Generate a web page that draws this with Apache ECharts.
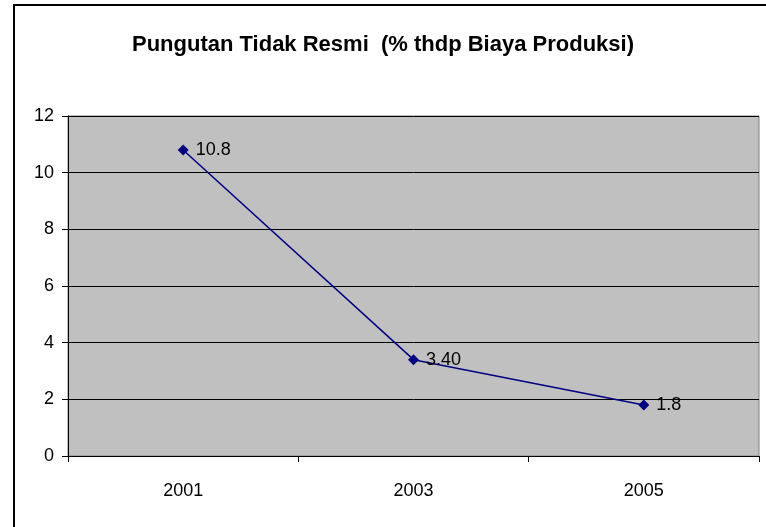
<!DOCTYPE html>
<html>
<head>
<meta charset="utf-8">
<script src="https://cdn.jsdelivr.net/npm/echarts@6/dist/echarts.min.js"></script>
<style>
html,body{margin:0;padding:0;background:#fff;}
#c{width:766px;height:527px;}
</style>
</head>
<body>
<div id="c"></div>
<script>
const titleText = 'Pungutan Tidak Resmi  (% thdp Biaya Produksi)';
const categories = ['2001', '2003', '2005'];
const values = [10.8, 3.4, 1.8];
const labelTexts = ['10.8', '3.40', '1.8'];
const yTicks = { min: 0, max: 12, interval: 2 };

const chart = echarts.init(document.getElementById('c'));
const font = 'Liberation Sans, Arial, sans-serif';
chart.setOption({
  animation: false,
  backgroundColor: '#ffffff',
  graphic: [{
    type: 'rect',
    shape: { x: 14, y: 5, width: 800, height: 600 },
    style: { fill: 'none', stroke: '#000', lineWidth: 2 },
    silent: true
  }],
  title: {
    text: titleText,
    left: 'center',
    top: 29,
    textStyle: { fontFamily: font, fontSize: 22, fontWeight: 'bold', color: '#000' }
  },
  grid: {
    left: 68, right: 7, top: 116, bottom: 71,
    show: true, backgroundColor: '#c0c0c0', borderColor: '#808080', borderWidth: 1
  },
  xAxis: {
    type: 'category',
    data: categories,
    boundaryGap: true,
    axisLine: { lineStyle: { color: '#000', width: 1 } },
    axisTick: { show: true, alignWithLabel: false, length: 6, lineStyle: { color: '#000' } },
    axisLabel: { margin: 26, fontFamily: font, fontSize: 18, color: '#000' },
    splitLine: { show: false }
  },
  yAxis: {
    type: 'value',
    min: yTicks.min, max: yTicks.max, interval: yTicks.interval,
    axisLine: { show: true, lineStyle: { color: '#000', width: 1 } },
    axisTick: { show: true, length: 6, lineStyle: { color: '#000' } },
    axisLabel: { margin: 14, fontFamily: font, fontSize: 18, color: '#000' },
    splitLine: { show: true, lineStyle: { color: '#000', width: 1 } }
  },
  series: [{
    type: 'line',
    data: values,
    symbol: 'diamond',
    symbolSize: 11,
    itemStyle: { color: '#000080' },
    lineStyle: { color: '#000080', width: 1.5 },
    label: {
      show: true,
      position: 'right',
      distance: 7,
      fontFamily: font,
      fontSize: 18,
      color: '#000',
      formatter: p => labelTexts[p.dataIndex]
    }
  }]
});
</script>
</body>
</html>
